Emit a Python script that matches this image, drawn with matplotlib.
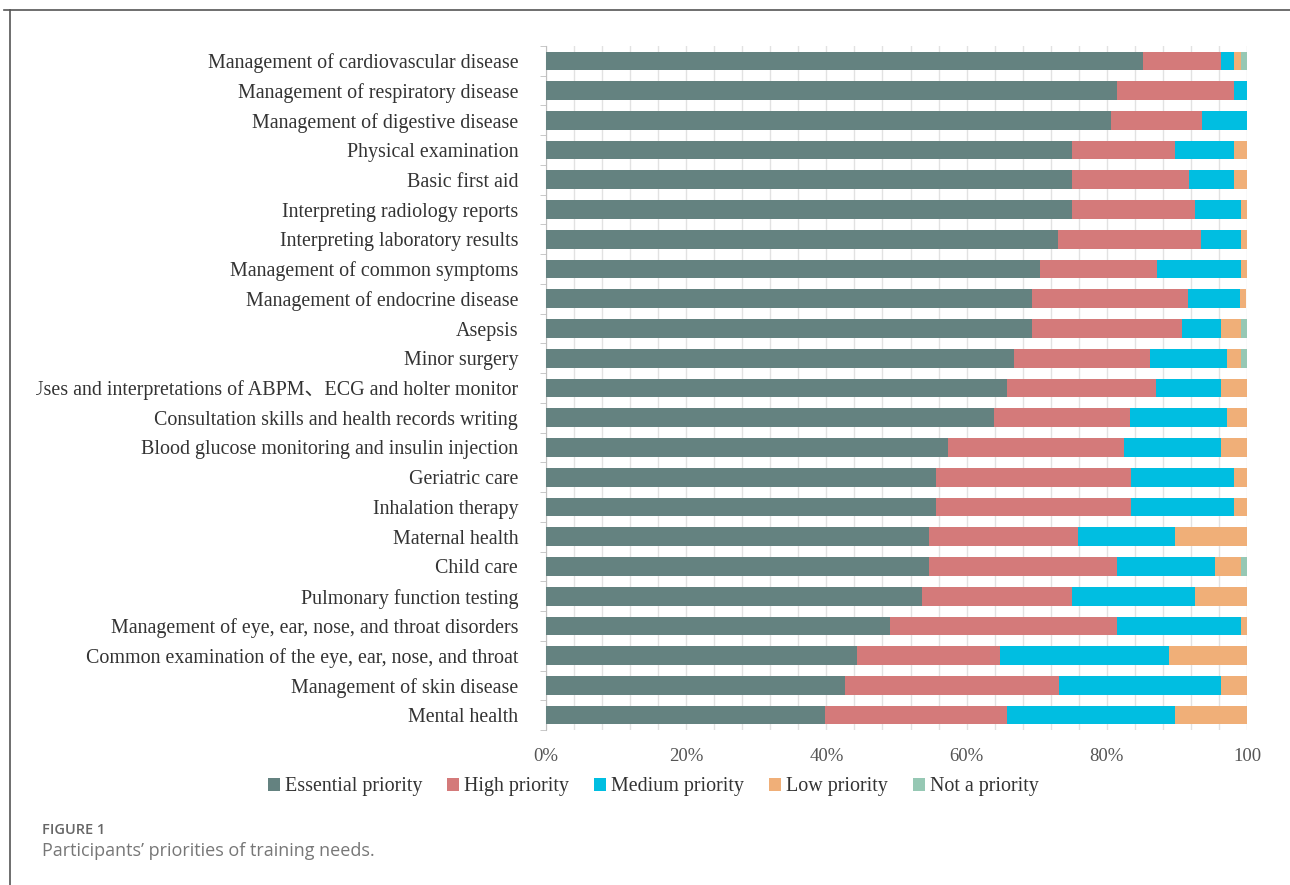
import matplotlib
matplotlib.use('Agg')
import matplotlib.pyplot as plt
import numpy as np
from matplotlib.lines import Line2D
from matplotlib.patches import Patch
from matplotlib.transforms import Bbox, TransformedBbox

# training needs, top to bottom
skills = [
    'Management of cardiovascular disease',
    'Management of respiratory disease',
    'Management of digestive disease',
    'Physical examination',
    'Basic first aid',
    'Interpreting radiology reports',
    'Interpreting laboratory results',
    'Management of common symptoms',
    'Management of endocrine disease',
    'Asepsis',
    'Minor surgery',
    'Uses and interpretations of ABPM\u3001ECG and holter monitor',
    'Consultation skills and health records writing',
    'Blood glucose monitoring and insulin injection',
    'Geriatric care',
    'Inhalation therapy',
    'Maternal health',
    'Child care',
    'Pulmonary function testing',
    'Management of eye, ear, nose, and throat disorders',
    'Common examination of the eye, ear, nose, and throat',
    'Management of skin disease',
    'Mental health',
]

# percentages
essential = [85.2, 81.5, 80.6, 75.0, 75.0, 75.0, 73.1, 70.4, 69.4, 69.4, 66.7, 65.7,
             63.9, 57.4, 55.6, 55.6, 54.6, 54.6, 53.7, 49.1, 44.4, 42.6, 39.8]
high = [11.1, 16.7, 13.0, 14.8, 16.7, 17.6, 20.4, 16.7, 22.2, 21.3, 19.4, 21.3,
        19.4, 25.0, 27.8, 27.8, 21.3, 26.9, 21.3, 32.4, 20.4, 30.6, 25.9]
medium = [1.9, 1.8, 6.4, 8.3, 6.5, 6.5, 5.6, 12.0, 7.4, 5.6, 11.1, 9.3,
          13.9, 13.9, 14.8, 14.8, 13.9, 13.9, 17.6, 17.6, 24.1, 23.1, 24.1]
low = [0.9, 0.0, 0.0, 1.9, 1.8, 0.9, 0.9, 0.9, 0.9, 2.8, 1.9, 3.7,
       2.8, 3.7, 1.8, 1.8, 10.2, 3.7, 7.4, 0.9, 11.1, 3.7, 10.2]
not_priority = [0.9, 0.0, 0.0, 0.0, 0.0, 0.0, 0.0, 0.0, 0.0, 0.9, 0.9, 0.0,
                0.0, 0.0, 0.0, 0.0, 0.0, 0.9, 0.0, 0.0, 0.0, 0.0, 0.0]

series = ['Essential priority', 'High priority', 'Medium priority', 'Low priority', 'Not a priority']
colors = ['#648280', '#D47A7A', '#00BEE1', '#F0AF78', '#96C8B4']

serif = ['Liberation Serif', 'Noto Sans CJK SC', 'DejaVu Sans']

fig = plt.figure(figsize=(12.9, 8.85), dpi=100)
ax = fig.add_axes([546 / 1290, 1 - 730 / 885, 701 / 1290, 684 / 885])

y = np.arange(len(skills))
left = np.zeros(len(skills))
for vals, col in zip([essential, high, medium, low, not_priority], colors):
    vals = np.array(vals)
    ax.barh(y, vals, left=left, height=0.63, color=col, zorder=3)
    left += vals

ax.set_ylim(len(skills) - 0.5, -0.5)
ax.set_xlim(0, 100)
ax.set_xticks([0, 20, 40, 60, 80, 100])
ax.set_xticklabels(['0%', '20%', '40%', '60%', '80%', '100'], fontfamily=serif, fontsize=13.5, color='#555555')
ax.set_xticks(np.arange(0, 101, 4), minor=True)
ax.grid(axis='x', which='both', color='#E2E2E2', linewidth=1, zorder=0)
ax.tick_params(axis='x', which='both', length=0, pad=13)

ax.set_yticks(y)
ax.set_yticklabels(skills, fontfamily=serif, fontsize=14.4, color='#333333')
ax.set_yticks(np.arange(-0.5, len(skills), 1), minor=True)
ax.tick_params(axis='y', which='major', length=0, pad=20)
ax.tick_params(axis='y', which='minor', length=4, color='#BFBFBF')

for s in ['top', 'right', 'bottom']:
    ax.spines[s].set_visible(False)
ax.spines['left'].set_color('#BFBFBF')

# the long label is cut at the left edge of the chart area
clip = TransformedBbox(Bbox([[36 / 1290, 0], [1, 1]]), fig.transFigure)
for lab in ax.get_yticklabels():
    lab.set_clip_box(clip)
    lab.set_clip_on(True)

handles = [Patch(facecolor=c, edgecolor='none') for c in colors]
leg = fig.legend(handles, series, loc='center', bbox_to_anchor=(653 / 1290, 1 - 787 / 885), ncol=5,
                 frameon=False, handlelength=0.6, handleheight=0.6, handletextpad=0.25, columnspacing=1.25,
                 prop={'family': serif, 'size': 14.4})
for t in leg.get_texts():
    t.set_color('#333333')

# figure frame (top and left)
fig.add_artist(Line2D([4 / 1290, 1], [1 - 10 / 885] * 2, transform=fig.transFigure, color='#555555', linewidth=1.2))
fig.add_artist(Line2D([10 / 1290] * 2, [0, 1 - 10 / 885], transform=fig.transFigure, color='#555555', linewidth=1.2))

fig.text(42 / 1290, 1 - 830 / 885, 'FIGURE 1', fontfamily='Open Sans', fontsize=10.5, fontweight='semibold',
         color='#666666', va='center')
fig.text(42 / 1290, 1 - 851 / 885, 'Participants\u2019 priorities of training needs.', fontfamily='Open Sans',
         fontsize=13, color='#777777', va='center')

fig.savefig('out.png', dpi=100)
